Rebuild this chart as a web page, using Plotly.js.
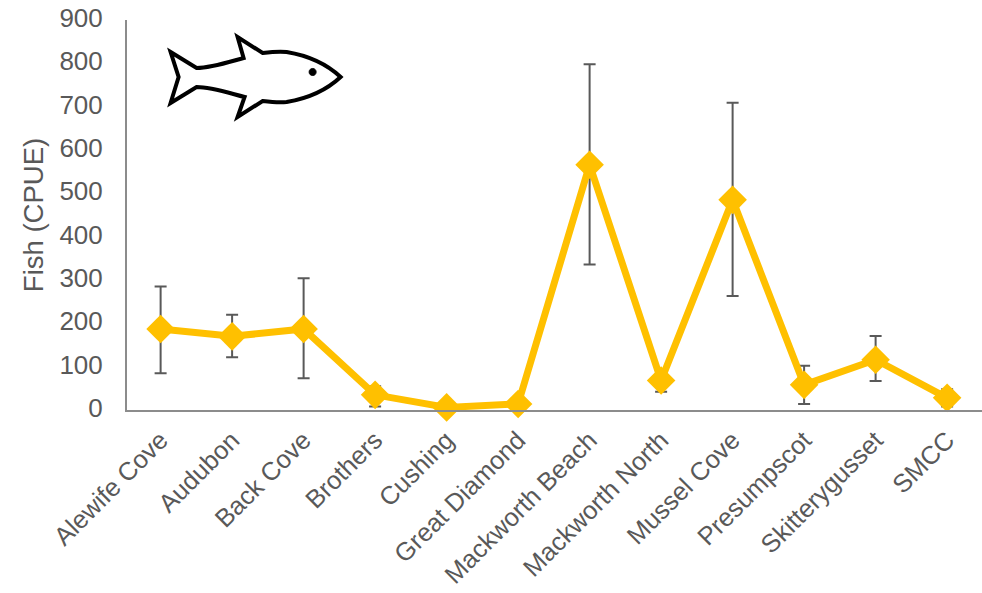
<!DOCTYPE html>
<html><head><meta charset="utf-8">
<script src="https://cdn.plot.ly/plotly-3.0.1.min.js"></script>
<style>html,body{margin:0;padding:0;background:#fff}#c{width:982px;height:593px}</style></head>
<body><div id="c"></div>
<script>
const sites = ["Alewife Cove","Audubon","Back Cove","Brothers","Cushing","Great Diamond","Mackworth Beach","Mackworth North","Mussel Cove","Presumpscot","Skitterygusset","SMCC"];
const cpue = [187,170,187,35,6,14,566,68,485,58,116,28];
const errUp = [98,50,117,20,4,5,232,26,224,44,55,20];
const errDown = [102,48,114,27,4,5,230,26,222,44,49,20];
const tickValues = [0,100,200,300,400,500,600,700,800,900];
const fishOutline = "M 10,358 L 36,342 C 50,342 65,347 83,352 L 77,373 L 102,357 C 110,358 118,359 126,358 C 144,355 165,347 180,333 C 165,319 144,311 126,308 C 118,307 110,308 102,309 L 77,293 L 84,313 C 65,318 50,323 36,323 L 10,307 L 18,333 Z";
const fishEye = "M 148.5,338 C 148.5,333.3 155.5,333.3 155.5,338 C 155.5,342.7 148.5,342.7 148.5,338 Z";
const grey = "#595959";
const font = {family:"Liberation Sans, Arial, sans-serif", size:25.5, color:grey};
Plotly.newPlot("c",[{
  type:"scatter", mode:"lines+markers", x:sites, y:cpue, cliponaxis:false,
  line:{color:"#FFC000", width:7},
  marker:{symbol:"diamond", size:22, color:"#FFC000"},
  error_y:{type:"data", symmetric:false, array:errUp, arrayminus:errDown, color:grey, thickness:2, width:6}
}],{
  width:982, height:593, showlegend:false,
  paper_bgcolor:"#fff", plot_bgcolor:"#fff",
  margin:{l:127,r:0,t:20,b:183,pad:0},
  font:font,
  xaxis:{type:"category", range:[-0.47,11.488], tickangle:-45, showgrid:false, zeroline:false, showline:true, linecolor:"#8c8c8c", linewidth:2, ticks:"", tickfont:font, ticklabelstandoff:3, automargin:false},
  yaxis:{range:[0,900], tickvals:tickValues, showgrid:false, zeroline:false, showline:true, linecolor:"#8c8c8c", linewidth:2, ticks:"", tickfont:Object.assign({},font,{size:26}), ticklabelstandoff:17, ticklabelshift:-2, automargin:false,
    title:{text:"Fish (CPUE)", font:{family:font.family,size:27.5,color:grey}, standoff:8}},
  shapes:[
    {type:"path", xref:"x", yref:"y", xsizemode:"pixel", ysizemode:"pixel", xanchor:0, yanchor:0, path:fishOutline, line:{color:"#000",width:4}, fillcolor:"#fff"},
    {type:"path", xref:"x", yref:"y", xsizemode:"pixel", ysizemode:"pixel", xanchor:0, yanchor:0, path:fishEye, line:{color:"#000",width:1}, fillcolor:"#000"}
  ]
},{displayModeBar:false,staticPlot:true});
</script></body></html>
